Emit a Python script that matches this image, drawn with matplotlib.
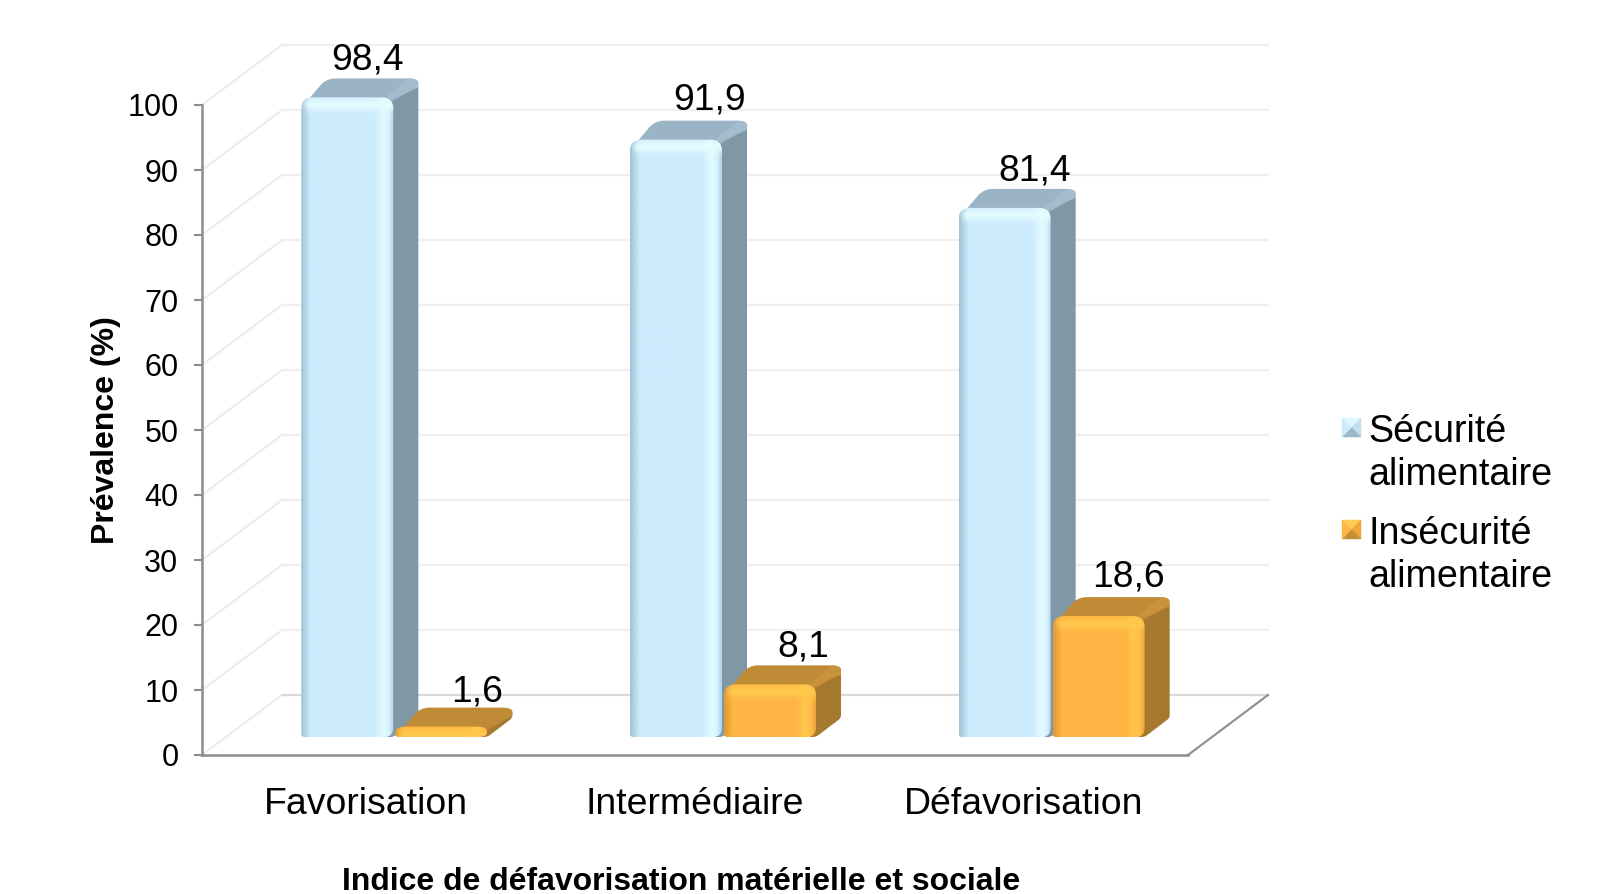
import numpy as np
import matplotlib
matplotlib.use("Agg")
import matplotlib.pyplot as plt
from matplotlib.patches import PathPatch, Polygon
from matplotlib.path import Path

plt.rcParams['font.family'] = ['Liberation Sans', 'DejaVu Sans']

categories = ["Favorisation", "Intermédiaire", "Défavorisation"]
securite = [98.4, 91.9, 81.4]
insecurite = [1.6, 8.1, 18.6]
y_ticks = list(range(0, 101, 10))
value_labels_s = ["98,4", "91,9", "81,4"]
value_labels_i = ["1,6", "8,1", "18,6"]
legend_labels = ["Sécurité\nalimentaire", "Insécurité\nalimentaire"]

W, H = 1601, 894
# front plane of the axes, in pixels
left, right, top, bottom = 202, 1188, 105, 755
PX = (right - left) / 3      # pixels per category
PY = (bottom - top) / 100    # pixels per percent

# colours: face, left edge, highlight, side, top, streak on the back corner
blue = dict(face="#CCEBFD", edge="#9FC4D6", light="#E4FBFF", side="#8097A6", top="#9BB4C5", corner="#A3BDCD",
            sw=["#E2F6FF", "#C2DFEE", "#9DB9C9", "#CCEBFD"])
orange = dict(face="#FFB444", edge="#DE9A35", light="#FFC84C", side="#A67A2E", top="#BF8B36", corner="#C9933A",
              sw=["#FFCB50", "#EBA63C", "#C68E36", "#FFB444"])

fig = plt.figure(figsize=(W / 100, H / 100), dpi=100)
ax = fig.add_axes([left / W, 1 - bottom / H, (right - left) / W, (bottom - top) / H])
ax.patch.set_alpha(0)


def px_pt(x, y):
    return x / W, 1 - y / H


def hex_rgb(c):
    return np.array(matplotlib.colors.to_rgb(c))


def rounded_path(pts, radii):
    # closed path through pts (in data units), corners cut with quadratic curves
    verts, codes = [], []
    n = len(pts)
    for i in range(n):
        p = np.array(pts[i]) * (PX, PY)
        a = np.array(pts[i - 1]) * (PX, PY)
        b = np.array(pts[(i + 1) % n]) * (PX, PY)
        r = radii[i]
        p1 = p + (a - p) / np.linalg.norm(a - p) * min(r, np.linalg.norm(a - p) / 2)
        p2 = p + (b - p) / np.linalg.norm(b - p) * min(r, np.linalg.norm(b - p) / 2)
        verts += [p1, p, p2]
        codes += [Path.MOVETO if i == 0 else Path.LINETO, Path.CURVE3, Path.CURVE3]
    verts.append(verts[0])
    codes.append(Path.CLOSEPOLY)
    return Path(np.array(verts) / (PX, PY), codes)


def face_image(c, w_px, h_px):
    # shading of the bevelled front face
    w_px, h_px = int(w_px), max(int(h_px), 2)
    face, edge, light = hex_rgb(c["face"]), hex_rgb(c["edge"]), hex_rgb(c["light"])
    img = np.ones((h_px, w_px, 3)) * face
    xx = np.arange(w_px)
    yy = np.arange(h_px)
    t = np.clip(1 - xx / 9, 0, 1)[None, :, None]
    img = img * (1 - t) + edge * t
    t = np.exp(-((xx - (w_px - 11)) / 6.0) ** 2)[None, :, None] * 0.9
    img = img * (1 - t) + light * t
    t = np.clip(1 - xx[::-1] / 4, 0, 1)[None, :, None] * 0.6
    img = img * (1 - t) + edge * t
    t = np.exp(-((yy - 7) / 6.0) ** 2)[:, None, None] * np.clip(xx / 8, 0, 1)[None, :, None]
    img = img * (1 - t) + light * t
    return img


def draw_bar(x0, width, value, base, dx, dy, c, z):
    x1 = x0 + width
    ytop = base + value
    side = [(x1 - 6 / PX, base), (x1, base), (x1 + dx, base + dy), (x1 + dx, ytop + dy), (x1 - 6 / PX, ytop)]
    ax.add_patch(PathPatch(rounded_path(side, [0, 3, 3, 11, 0]), fc=c["side"], ec="none", zorder=z, clip_on=False))
    roof = [(x0 + 2 / PX, ytop - 8 / PY), (x1 - 8 / PX, ytop - 8 / PY), (x1 + dx, ytop + dy - 8 / PY),
            (x1 + dx, ytop + dy), (x0 + dx, ytop + dy)]
    ax.add_patch(PathPatch(rounded_path(roof, [0, 0, 0, 11, 9]), fc=c["top"], ec="none", zorder=z + 0.1, clip_on=False))
    # lighter streak where roof and side meet
    streak = [(x1 - 2 / PX, ytop - 2 / PY), (x1 - 8 / PX, ytop - 1 / PY), (x1 + dx - 9 / PX, ytop + dy),
              (x1 + dx - 1 / PX, ytop + dy - 1 / PY), (x1 + dx, ytop + dy - 9 / PY)]
    if value * PY > 20:
        ax.add_patch(PathPatch(rounded_path(streak, [0, 0, 0, 4, 0]), fc=c["corner"], ec="none", zorder=z + 0.15, clip_on=False))

    h_px = value * PY
    front = [(x0, base), (x1, base), (x1, ytop), (x0, ytop)]
    box = PathPatch(rounded_path(front, [3, 9, 11, 11]), fc="none", ec="none", transform=ax.transData, zorder=z + 0.2)
    ax.add_patch(box)
    im = ax.imshow(face_image(c, width * PX, h_px), extent=(x0, x1, base, ytop),
                   aspect="auto", interpolation="bilinear", zorder=z + 0.3)
    im.set_clip_path(box)
    im.set_clip_box(fig.bbox)


# depth of the chart walls and of the bars, in data units
wall_dx, wall_dy = 80 / PX, 60 / PY
bar_dx, bar_dy = 25 / PX, 19 / PY
floor = 18 / PY
bar_w = 92 / PX
gap = 2 / PX
shift = 28 / PX

# walls
for v in y_ticks:
    col = "#DADADA" if v == 0 else "#EFEFEF"
    ax.plot([0, wall_dx], [v, v + wall_dy], color="#EAEAEA", lw=1.3, clip_on=False, zorder=1)
    ax.plot([wall_dx, 3 + wall_dx], [v + wall_dy, v + wall_dy], color=col, lw=1.6, clip_on=False, zorder=1)
ax.plot([3, 3 + wall_dx], [0, wall_dy], color="#8C8C8C", lw=1.5, clip_on=False, zorder=1.5)

# bars
for i in range(len(categories)):
    x0 = i + 0.5 + shift - bar_w - gap / 2
    draw_bar(x0, bar_w, securite[i], floor, bar_dx, bar_dy, blue, 2 + i * 2)
    draw_bar(x0 + bar_w + gap, bar_w, insecurite[i], floor, bar_dx, bar_dy, orange, 3 + i * 2)

# value labels, shifted by hand as in the original
label_dx_s = [20, 34, 30]
label_dx_i = [36, 33, 30]
label_dy_s = [18, 21, 18]
label_dy_i = [16, 18, 20]
for i in range(len(categories)):
    xc = i + 0.5 + shift - bar_w / 2 - gap / 2 + label_dx_s[i] / PX
    ax.text(xc, floor + securite[i] + bar_dy + label_dy_s[i] / PY, value_labels_s[i], fontsize=26.8,
            ha="center", va="center", color="black", zorder=20)
    xc = i + 0.5 + shift + bar_w / 2 + gap / 2 + label_dx_i[i] / PX
    ax.text(xc, floor + insecurite[i] + bar_dy + label_dy_i[i] / PY, value_labels_i[i], fontsize=26.8,
            ha="center", va="center", color="black", zorder=20)

ax.set_xlim(0, 3)
ax.set_ylim(0, 100)
ax.set_xticks([i + 0.5 for i in range(len(categories))])
ax.set_xticklabels(categories, fontsize=26.9)
ax.set_yticks(y_ticks)
ax.tick_params(axis="x", length=0, pad=23)
ax.tick_params(axis="y", length=6, width=1.5, color="#8C8C8C", labelsize=22, pad=11)
for s in ["top", "right"]:
    ax.spines[s].set_visible(False)
for s in ["left", "bottom"]:
    ax.spines[s].set_color("#8C8C8C")
    ax.spines[s].set_linewidth(1.8)

fig.text(*px_pt(106, 430), "Prévalence (%)", rotation=90, fontsize=23, fontweight="bold", ha="center", va="center")
fig.text(*px_pt(681, 882), "Indice de défavorisation matérielle et sociale", fontsize=23, fontweight="bold",
         ha="center", va="center")

# legend, with the little bevelled swatches
swatch_y = [418, 520]
for lab, c, sy in zip(legend_labels, [blue, orange], swatch_y):
    x0, y0, s = 1342, sy, 19
    cx, cy = x0 + s / 2, y0 + s / 2
    tl, tr, br, bl, m = (x0, y0), (x0 + s, y0), (x0 + s, y0 + s), (x0, y0 + s), (cx, cy)
    tris = [[tl, tr, m], [tr, br, m], [br, bl, m], [bl, tl, m]]
    for tri, fc in zip(tris, c["sw"]):
        fig.add_artist(Polygon([px_pt(*p) for p in tri], closed=True, fc=fc, ec=fc, lw=0.3,
                               transform=fig.transFigure))
    fig.text(*px_pt(1368, sy - 4), lab, fontsize=27.1, ha="left", va="top", linespacing=1.24)

fig.savefig("out.png", dpi=100)
